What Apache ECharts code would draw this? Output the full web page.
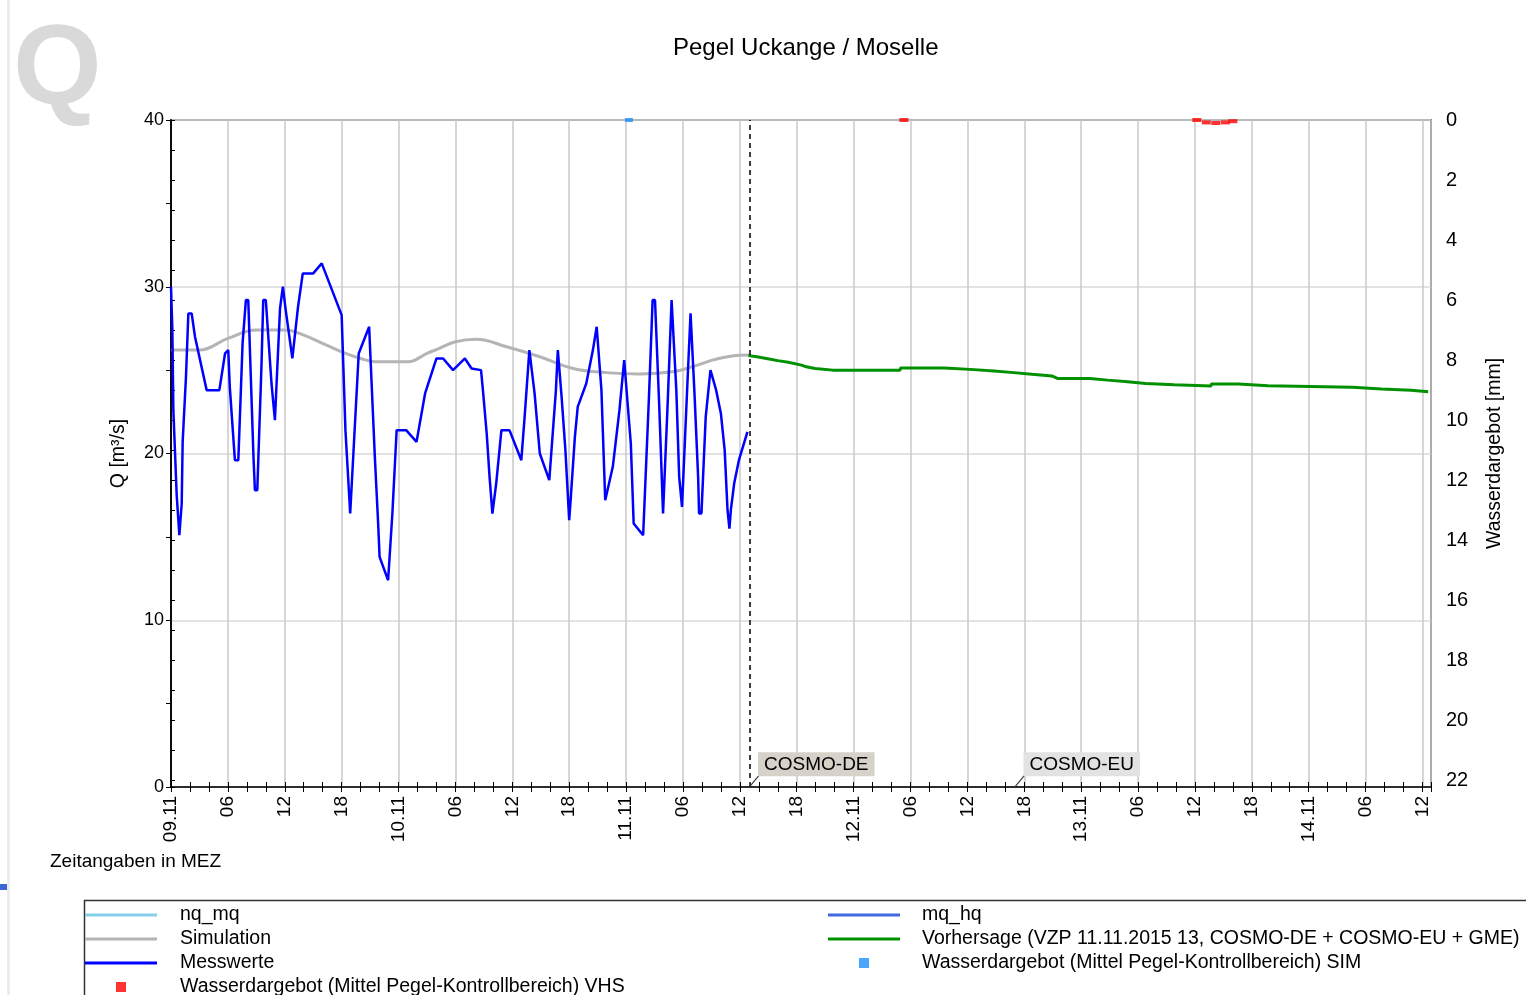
<!DOCTYPE html>
<html>
<head>
<meta charset="utf-8">
<script src="https://cdn.jsdelivr.net/npm/echarts@6/dist/echarts.min.js"></script>
<style>
  html, body { margin: 0; padding: 0; background: #fff; }
  #chart { width: 1526px; height: 995px; }
</style>
</head>
<body>
<div id="chart"></div>
<script>
// hours since 09.11.2015 00:00 MEZ
const dayLabels = ['09.11', '10.11', '11.11', '12.11', '13.11', '14.11'];

const messHours = [0, 0.14, 0.25, 0.6, 0.88, 1.13, 1.23, 1.58, 1.83, 2.18, 2.53, 3.76, 5.1, 5.7, 6.04, 6.2, 6.74, 7.1, 7.55, 7.9,
  8.15, 8.7, 8.85, 9.1, 9.55, 9.73, 10.0, 10.6, 10.96, 11.1, 11.5, 11.8, 12.1, 12.8, 13.0, 13.4, 13.9, 15.0, 15.9, 16.1,
  18.0, 18.4, 18.9, 19.1, 19.8, 20.9, 21.5, 21.85, 22.0, 22.9, 23.35, 23.8, 24.8, 25.9, 26.8, 28.0, 28.7, 29.75, 31.0, 31.7,
  32.7, 32.9, 33.3, 33.6, 33.9, 34.05, 34.3, 34.85, 35.7, 36.95, 37.3, 37.8, 38.0, 38.35, 38.9, 39.9, 40.05, 40.6, 40.8, 41.2,
  41.6, 42.0, 42.15, 42.6, 42.9, 43.8, 44.5, 44.9, 45.05, 45.4, 45.8, 45.95, 46.6, 47.3, 47.8, 48.0, 48.5, 48.8, 49.8, 49.95,
  50.4, 50.8, 51.05, 51.5, 51.9, 52.05, 52.4, 52.8, 52.95, 53.3, 53.6, 53.9, 54.05, 54.5, 54.8, 54.95, 55.2, 55.6, 55.7, 55.95,
  56.4, 56.9, 57.1, 57.5, 58.0, 58.4, 58.7, 58.9, 59.05, 59.4, 59.9, 60.8];
const messValues = [30.0, 27.5, 22.6, 17.5, 15.1, 17.0, 20.7, 24.6, 28.4, 28.4, 27.0, 23.8, 23.8, 26.0, 26.2, 24.0, 19.6, 19.6, 26.6, 29.2,
  29.2, 19.8, 17.8, 17.8, 25.4, 29.2, 29.2, 24.2, 22.0, 22.0, 28.7, 30.0, 28.6, 25.7, 25.7, 28.8, 30.8, 30.8, 31.4, 31.4,
  28.3, 21.4, 16.4, 16.4, 26.0, 27.6, 19.8, 15.8, 13.8, 12.4, 16.4, 21.4, 21.4, 20.7, 23.6, 25.7, 25.7, 25.0, 25.7, 25.1,
  25.0, 23.8, 21.2, 18.6, 16.4, 16.4, 18.2, 21.4, 21.4, 19.6, 22.2, 26.2, 26.2, 23.6, 20.0, 18.4, 18.4, 23.8, 26.2, 23.4,
  20.2, 16.0, 17.2, 21.0, 22.8, 24.2, 26.2, 27.6, 27.6, 23.8, 17.2, 17.2, 19.2, 22.6, 25.6, 25.6, 20.6, 15.8, 15.1, 15.1,
  23.2, 29.2, 29.2, 22.8, 16.4, 16.4, 23.2, 29.2, 29.2, 23.8, 18.6, 16.8, 16.8, 24.6, 28.4, 28.4, 23.8, 18.6, 16.4, 16.4,
  22.2, 25.0, 25.0, 23.8, 22.4, 20.2, 16.6, 15.5, 16.6, 18.2, 19.6, 21.3];

const simHours = [0, 3, 6, 9, 12, 14, 16.4, 18, 20, 21.5, 25, 27, 28.3, 30, 32.2, 35.4, 38.9, 42.4, 45.9, 49.4, 52.9, 55, 57.1, 59.2, 61];
const simValues = [26.2, 26.2, 26.9, 27.4, 27.4, 27.1, 26.5, 26.1, 25.7, 25.5, 25.5, 26.0, 26.3, 26.7, 26.85, 26.4, 25.8, 25.1, 24.85, 24.77, 24.9, 25.2, 25.6, 25.85, 25.9];

const vorHours = [60.9, 61.8, 62.8, 64.0, 65.1, 66.5, 67.0, 67.95, 69.8, 76.9, 76.95, 81.6, 81.65, 84.7, 84.75, 86.8, 86.85, 88.9, 88.95, 90.8,
  90.85, 92.9, 93.5, 96.9, 96.95, 98.8, 98.85, 100.9, 100.95, 102.8, 102.85, 105.8, 105.85, 109.7, 109.75, 112.6, 112.65, 115.7, 115.75, 124.6,
  124.65, 127.7, 127.75, 130.8, 130.85, 132.6];
const vorValues = [25.87, 25.8, 25.7, 25.57, 25.47, 25.3, 25.2, 25.1, 25.0, 25.0, 25.13, 25.13, 25.03, 25.03, 24.95, 24.95, 24.85, 24.85, 24.75, 24.75,
  24.65, 24.65, 24.5, 24.5, 24.4, 24.4, 24.3, 24.3, 24.2, 24.2, 24.13, 24.13, 24.05, 24.05, 24.17, 24.17, 24.07, 24.07, 23.97, 23.97,
  23.87, 23.87, 23.79, 23.79, 23.71, 23.71];

// Wasserdargebot [mm] (right axis)
const simWdHours = [48.3];
const simWdValues = [0];
const vhsHours = [77.3, 108.2, 109.2, 110.2, 111.2, 112.0];
const vhsValues = [0, 0, 0.08, 0.1, 0.08, 0.04];

const vzpHour = 61;
const cosmoEuHour = 89;

const zip = (a, b) => a.map((x, i) => [x, b[i]]);
const pad = h => (h < 10 ? '0' : '') + h;
const FONT = 'Liberation Sans';
const SQUARE = 'path://M0,0H10V10H0Z';
const BAR = 'path://M0,0H72V3H0Z';

const chart = echarts.init(document.getElementById('chart'));

const cosmoLabel = (text, bg) => ({
  show: true,
  formatter: text,
  position: [11, -20],
  color: '#000',
  fontFamily: FONT,
  fontSize: 19,
  lineHeight: 19,
  backgroundColor: bg,
  padding: [3, 6, 2, 6]
});

const legendText = (padLeft) => ({
  fontFamily: FONT, fontSize: 19.5, lineHeight: 18, color: '#000', padding: [0, 0, 0, padLeft]
});

const option = {
  animation: false,
  backgroundColor: '#fff',
  textStyle: { fontFamily: FONT },
  title: {
    text: 'Pegel Uckange / Moselle',
    left: 668,
    top: 31,
    textStyle: { fontFamily: FONT, fontSize: 24, fontWeight: 'normal', color: '#000' }
  },
  grid: {
    left: 171, right: 95, top: 120, bottom: 208,
    show: true, borderColor: '#222', borderWidth: 1.5, backgroundColor: 'transparent'
  },
  legend: [{
    orient: 'vertical', left: 85, top: 905, height: 130, padding: 0,
    itemWidth: 72, itemHeight: 10, itemGap: 4,
    selectedMode: false,
    textStyle: legendText(18),
    data: [{ name: 'nq_mq', icon: BAR }, { name: 'Simulation', icon: BAR }, { name: 'Messwerte', icon: BAR },
      { name: 'Wasserdargebot (Mittel Pegel-Kontrollbereich) VHS', icon: SQUARE }]
  }, {
    orient: 'vertical', left: 828, top: 905, height: 130, padding: 0,
    itemWidth: 72, itemHeight: 10, itemGap: 4,
    selectedMode: false,
    textStyle: legendText(17),
    data: [{ name: 'mq_hq', icon: BAR },
      { name: 'Vorhersage (VZP 11.11.2015 13, COSMO-DE + COSMO-EU + GME)', icon: BAR },
      { name: 'Wasserdargebot (Mittel Pegel-Kontrollbereich) SIM', icon: SQUARE }]
  }],
  xAxis: [{
    type: 'value', min: 0, max: 132.9, interval: 6, position: 'bottom',
    axisLine: { lineStyle: { color: '#000', width: 1.5 } },
    axisTick: { length: 5, lineStyle: { color: '#000' } },
    minorTick: { show: true, splitNumber: 3, length: 5, lineStyle: { color: '#000' } },
    splitLine: { show: true, lineStyle: { color: '#c8c8c8', width: 1.5 } },
    axisLabel: {
      rotate: 90, margin: 9, fontSize: 19, color: '#000', showMaxLabel: false,
      formatter: v => (v % 24 === 0 ? dayLabels[v / 24] : pad(v % 24))
    }
  }, {
    // tick-only twin, moved onto the bottom edge so the ticks cross the axis
    type: 'value', min: 0, max: 132.9, interval: 6, position: 'top', offset: -667,
    axisLine: { show: false },
    axisTick: { length: 5, lineStyle: { color: '#000' } },
    minorTick: { show: true, splitNumber: 3, length: 5, lineStyle: { color: '#000' } },
    splitLine: { show: false },
    axisLabel: { show: false }
  }],
  yAxis: [{
    type: 'value', min: 0, max: 40, interval: 10, position: 'left',
    name: 'Q [m³/s]', nameLocation: 'middle', nameGap: 42, nameRotate: 90,
    nameTextStyle: { fontFamily: FONT, fontSize: 19.5, color: '#000' },
    axisLine: { show: true, lineStyle: { color: '#000', width: 1.5 } },
    axisTick: { show: true, length: 5, lineStyle: { color: '#000' } },
    minorTick: { show: true, splitNumber: 2, length: 5, lineStyle: { color: '#000' } },
    splitLine: { show: true, lineStyle: { color: '#d9d9d9', width: 1.5 } },
    axisLabel: { margin: 7, fontSize: 18, color: '#000' }
  }, {
    type: 'value', min: 0, max: 22.23, interval: 2, inverse: true, position: 'right',
    name: 'Wasserdargebot [mm]', nameLocation: 'middle', nameGap: 54, nameRotate: 90,
    nameTextStyle: { fontFamily: FONT, fontSize: 19.5, color: '#000' },
    axisLine: { show: true, lineStyle: { color: '#000', width: 1.5 } },
    axisTick: { show: true, length: 4, lineStyle: { color: '#000' } },
    minorTick: { show: true, splitNumber: 2, length: 4, lineStyle: { color: '#000' } },
    splitLine: { show: false },
    axisLabel: { margin: 15, fontSize: 20, color: '#000', showMaxLabel: false }
  }, {
    // tick-only twin (placed on the free side, then shifted onto the right edge)
    type: 'value', min: 0, max: 22.23, interval: 2, inverse: true, position: 'right', offset: -1260,
    axisLine: { show: false },
    axisTick: { show: true, length: 4, lineStyle: { color: '#000' } },
    minorTick: { show: true, splitNumber: 2, length: 4, lineStyle: { color: '#000' } },
    splitLine: { show: false },
    axisLabel: { show: false }
  }],
  series: [{
    name: 'nq_mq', type: 'line', symbol: 'none', data: [],
    color: '#87ceeb', lineStyle: { width: 3 }
  }, {
    name: 'mq_hq', type: 'line', symbol: 'none', data: [],
    color: '#4169e1', lineStyle: { width: 3 }
  }, {
    name: 'Simulation', type: 'line', symbol: 'none', smooth: 0.4,
    color: '#b4b4b4', lineStyle: { width: 3 },
    data: zip(simHours, simValues)
  }, {
    name: 'Messwerte', type: 'line', symbol: 'none',
    color: '#0000ff', lineStyle: { width: 2.5 },
    data: zip(messHours, messValues)
  }, {
    name: 'Vorhersage (VZP 11.11.2015 13, COSMO-DE + COSMO-EU + GME)', type: 'line', symbol: 'none',
    color: '#009000', lineStyle: { width: 3 },
    data: zip(vorHours, vorValues),
    markLine: {
      silent: true, symbol: 'none', label: { show: false },
      lineStyle: { type: [5, 4], color: '#000', width: 1.5 },
      data: [{ xAxis: vzpHour }]
    },
    markPoint: {
      silent: true,
      symbol: 'path://M0,12L10,0',
      symbolSize: [10, 12],
      symbolOffset: [5, -6],
      itemStyle: { color: 'none', borderColor: '#333', borderWidth: 1 },
      data: [
        { coord: [vzpHour, 0], value: 'COSMO-DE', label: cosmoLabel('COSMO-DE', '#d6d2c9') },
        { coord: [cosmoEuHour, 0], value: 'COSMO-EU', label: cosmoLabel('COSMO-EU', '#e2e2e2') }
      ]
    }
  }, {
    name: 'Wasserdargebot (Mittel Pegel-Kontrollbereich) VHS', type: 'scatter', yAxisIndex: 1,
    symbol: 'rect', symbolSize: [9, 4], color: '#ff0000',
    data: zip(vhsHours, vhsValues)
  }, {
    name: 'Wasserdargebot (Mittel Pegel-Kontrollbereich) SIM', type: 'scatter', yAxisIndex: 1,
    symbol: 'rect', symbolSize: [8, 4], color: '#1e90ff',
    data: zip(simWdHours, simWdValues)
  }],
  graphic: [{
    type: 'text', left: 13, top: 16, silent: true,
    style: { text: 'Q', fill: '#d9d9d9', font: 'bold 114px "Liberation Sans"' }
  }, {
    type: 'rect', left: 7, top: 0, silent: true,
    shape: { width: 3, height: 995 }, style: { fill: '#ececec' }
  }, {
    type: 'rect', left: 0, top: 884, silent: true,
    shape: { width: 7, height: 6 }, style: { fill: '#3a66d6' }
  }, {
    type: 'text', left: 50, top: 852, silent: true,
    style: { text: 'Zeitangaben in MEZ', fill: '#000', font: '19px "Liberation Sans"' }
  }, {
    type: 'rect', left: 82, top: 898, silent: true,
    shape: { width: 1446, height: 110 },
    style: { fill: 'none', stroke: '#333', lineWidth: 1.5 }
  }]
};

chart.setOption(option);
</script>
</body>
</html>
